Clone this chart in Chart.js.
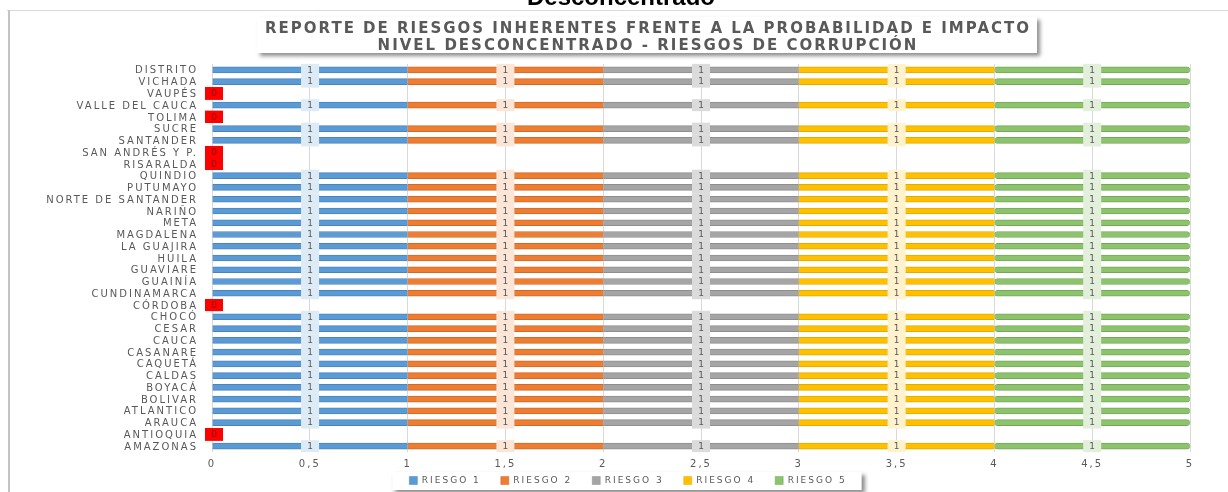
<!DOCTYPE html>
<html lang="es">
<head>
<meta charset="utf-8">
<title>Riesgos de corrupción - nivel desconcentrado</title>
<script src="https://cdn.jsdelivr.net/npm/chart.js@4.4.1/dist/chart.umd.min.js"></script>
<style>
    html, body { margin: 0; padding: 0; background: #fff; }
    #wrap { position: relative; width: 1228px; height: 492px; overflow: hidden; }
    #riesgosChart { position: absolute; left: 0; top: 0; }
    #encabezado {
        position: absolute; left: 0; top: -15px; width: 1242px;
        text-align: center; color: #000;
        font: bold 24px/24px "Liberation Sans", Arial, sans-serif;
    }
</style>
</head>
<body>
<div id="wrap">
    <canvas id="riesgosChart" width="1228" height="492"></canvas>
    <div id="encabezado">Desconcentrado</div>
</div>
<script>
const categories = [
    'DISTRITO', 'VICHADA', 'VAUPÉS', 'VALLE DEL CAUCA', 'TOLIMA', 'SUCRE',
    'SANTANDER', 'SAN ANDRÉS Y P.', 'RISARALDA', 'QUINDIO', 'PUTUMAYO',
    'NORTE DE SANTANDER', 'NARIÑO', 'META', 'MAGDALENA', 'LA GUAJIRA', 'HUILA',
    'GUAVIARE', 'GUAINÍA', 'CUNDINAMARCA', 'CÓRDOBA', 'CHOCÓ', 'CESAR', 'CAUCA',
    'CASANARE', 'CAQUETÁ', 'CALDAS', 'BOYACÁ', 'BOLIVAR', 'ATLANTICO', 'ARAUCA',
    'ANTIOQUIA', 'AMAZONAS'
];

const riesgo1 = [1, 1, 0, 1, 0, 1, 1, 0, 0, 1, 1, 1, 1, 1, 1, 1, 1, 1, 1, 1, 0, 1, 1, 1, 1, 1, 1, 1, 1, 1, 1, 0, 1];
const riesgo2 = [1, 1, 0, 1, 0, 1, 1, 0, 0, 1, 1, 1, 1, 1, 1, 1, 1, 1, 1, 1, 0, 1, 1, 1, 1, 1, 1, 1, 1, 1, 1, 0, 1];
const riesgo3 = [1, 1, 0, 1, 0, 1, 1, 0, 0, 1, 1, 1, 1, 1, 1, 1, 1, 1, 1, 1, 0, 1, 1, 1, 1, 1, 1, 1, 1, 1, 1, 0, 1];
const riesgo4 = [1, 1, 0, 1, 0, 1, 1, 0, 0, 1, 1, 1, 1, 1, 1, 1, 1, 1, 1, 1, 0, 1, 1, 1, 1, 1, 1, 1, 1, 1, 1, 0, 1];
const riesgo5 = [1, 1, 0, 1, 0, 1, 1, 0, 0, 1, 1, 1, 1, 1, 1, 1, 1, 1, 1, 1, 0, 1, 1, 1, 1, 1, 1, 1, 1, 1, 1, 0, 1];

const seriesLabels = ['RIESGO 1', 'RIESGO 2', 'RIESGO 3', 'RIESGO 4', 'RIESGO 5'];
const tickLabels = ['0', '0,5', '1', '1,5', '2', '2,5', '3', '3,5', '4', '4,5', '5'];
const titleLines = [
    'REPORTE DE RIESGOS INHERENTES FRENTE A LA PROBABILIDAD E IMPACTO',
    'NIVEL DESCONCENTRADO - RIESGOS DE CORRUPCIÓN'
];

const seriesColors = ['#5B9BD5', '#ED7D31', '#A5A5A5', '#FFC000', '#8CC36C'];
const edgeColors = ['#4A84BE', '#D2682A', '#8F8F8F', '#E3AA00', '#74A857'];
const labelBoxColors = ['#DDEBF7', '#FBE5D6', '#DBDBDB', '#FFF2CC', '#E2EFDA'];

const FONT = 'DejaVu Sans';
const TEXT_GREY = '#595959';
const SPACING = '2px';

// frame, shadowed boxes behind title and legend, letter spacing for all text
const marcoPlugin = {
    id: 'marco',
    beforeLayout(chart) {
        chart.ctx.letterSpacing = SPACING;
    },
    afterLayout(chart) {
        // title sits right of the centre, legend rows start at its top padding
        chart.titleBlock.left += 38;
        chart.titleBlock.right += 38;
        const lg = chart.legend;
        lg.left += 18;
        lg.right += 18;
        lg.top -= 16;
    },
    beforeDraw(chart) {
        const ctx = chart.ctx;
        ctx.letterSpacing = SPACING;
        ctx.save();

        ctx.strokeStyle = '#D9D9D9';
        ctx.lineWidth = 1;
        ctx.beginPath();
        ctx.moveTo(7, 10.5);
        ctx.lineTo(1228, 10.5);
        ctx.stroke();
        ctx.strokeStyle = '#C4C4C4';
        ctx.lineWidth = 2;
        ctx.beginPath();
        ctx.moveTo(9, 10);
        ctx.lineTo(9, 492);
        ctx.stroke();

        // title box
        const tb = chart.titleBlock;
        ctx.font = 'bold 15px "' + FONT + '"';
        const maxW = Math.max(...titleLines.map(t => ctx.measureText(t).width));
        const cx = (tb.left + tb.right) / 2;
        const tTop = tb.top + tb._padding.top - 4;
        ctx.shadowColor = 'rgba(0, 0, 0, 0.45)';
        ctx.shadowBlur = 4;
        ctx.shadowOffsetX = 3;
        ctx.shadowOffsetY = 3;
        ctx.fillStyle = '#fff';
        ctx.fillRect(cx - maxW / 2 - 8, tTop, maxW + 14, 36);

        // legend box
        const lg = chart.legend;
        const pad = lg.options.labels.padding;
        const startX = (lg.left + pad + lg.right - lg.lineWidths[0]) / 2;
        const itemTop = lg.top + pad;
        ctx.fillRect(startX - 17, itemTop - 4, lg.lineWidths[0] - pad + 32, 18);
        ctx.restore();
    }
};

// value labels in the middle of every segment, red marker where the row is empty
const etiquetasPlugin = {
    id: 'etiquetas',
    afterDatasetsDraw(chart) {
        const ctx = chart.ctx;
        ctx.save();
        ctx.letterSpacing = '0px';
        ctx.font = '9px "' + FONT + '"';
        ctx.textAlign = 'center';
        ctx.textBaseline = 'middle';
        chart.data.datasets.forEach((ds, i) => {
            chart.getDatasetMeta(i).data.forEach((bar, j) => {
                const v = ds.data[j];
                if (v === 0) {
                    ctx.fillStyle = '#FF0000';
                    ctx.fillRect(bar.base - 7, bar.y - 6, 18, 12);
                    ctx.fillStyle = '#8B0000';
                    ctx.fillText('0', bar.base + 2, bar.y + 0.5);
                } else {
                    const cx = (bar.x + bar.base) / 2;
                    ctx.fillStyle = labelBoxColors[i];
                    ctx.fillRect(cx - 9, bar.y - 6, 18, 12);
                    ctx.fillStyle = TEXT_GREY;
                    ctx.fillText(String(v), cx, bar.y + 0.5);
                }
            });
        });
        ctx.restore();
    }
};

const allSeries = [riesgo1, riesgo2, riesgo3, riesgo4, riesgo5];

const ctx = document.getElementById('riesgosChart').getContext('2d');
const riesgosChart = new Chart(ctx, {
    type: 'bar',
    data: {
        labels: categories,
        datasets: allSeries.map((values, i) => ({
            label: seriesLabels[i],
            data: values,
            backgroundColor: seriesColors[i],
            borderColor: edgeColors[i],
            borderWidth: { top: 1, bottom: 1, left: 0, right: 0 },
            borderRadius: 3,
            borderSkipped: false,
            barThickness: 6
        }))
    },
    options: {
        indexAxis: 'y',
        responsive: false,
        animation: false,
        events: [],
        layout: {
            padding: { top: 0, left: 30, right: 38, bottom: 0 }
        },
        scales: {
            x: {
                stacked: true,
                min: 0,
                max: 5,
                afterFit(scale) { scale.height = 20; },
                ticks: {
                    stepSize: 0.5,
                    padding: 6,
                    color: TEXT_GREY,
                    font: { family: FONT, size: 10 },
                    callback: (value, index) => tickLabels[index]
                },
                grid: { color: '#D9D9D9', drawTicks: false },
                border: { display: false }
            },
            y: {
                stacked: true,
                afterFit(scale) { scale.width = 182; },
                ticks: {
                    autoSkip: false,
                    padding: 6,
                    labelOffset: 1,
                    color: TEXT_GREY,
                    font: { family: FONT, size: 10, lineHeight: 1 }
                },
                grid: { display: false },
                border: { display: false }
            }
        },
        plugins: {
            title: {
                display: true,
                text: titleLines,
                color: TEXT_GREY,
                font: { family: FONT, size: 15, weight: 'bold', lineHeight: 17 / 15 },
                padding: { top: 21, bottom: 9 }
            },
            legend: {
                position: 'bottom',
                maxHeight: 20,
                labels: {
                    color: TEXT_GREY,
                    font: { family: FONT, size: 9 },
                    boxWidth: 8,
                    boxHeight: 8,
                    padding: 20
                }
            },
            tooltip: { enabled: false }
        }
    },
    plugins: [marcoPlugin, etiquetasPlugin]
});
</script>
</body>
</html>
